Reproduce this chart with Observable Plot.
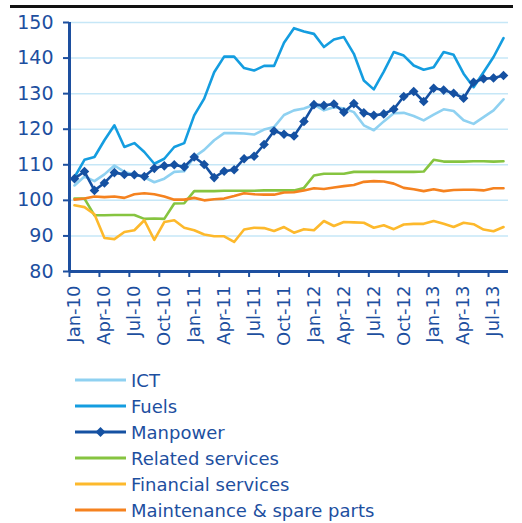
<!DOCTYPE html>
<html><head><meta charset="utf-8">
<script src="https://cdn.jsdelivr.net/npm/d3@7"></script>
<script src="https://cdn.jsdelivr.net/npm/@observablehq/plot@0.6"></script>
<style>
body{margin:0;background:#fff;font-family:"DejaVu Sans",sans-serif;}
#wrap{position:relative;width:522px;height:523px;overflow:hidden;background:#fff;}
#rule{position:absolute;left:10px;top:5px;width:503px;height:3px;background:#111;}
#chart{position:absolute;left:0;top:0;}
#legend{position:absolute;left:75px;top:367px;}
.row{height:26px;display:flex;align-items:center;color:#1d4f9f;font-size:18px;white-space:nowrap;}
.row svg{margin-right:5px;}
</style></head>
<body><div id="wrap"><div id="chart"></div><div id="rule"></div><div id="legend"></div></div>
<script>
const months = ["Jan-10","Feb-10","Mar-10","Apr-10","May-10","Jun-10","Jul-10","Aug-10","Sep-10","Oct-10","Nov-10","Dec-10",
  "Jan-11","Feb-11","Mar-11","Apr-11","May-11","Jun-11","Jul-11","Aug-11","Sep-11","Oct-11","Nov-11","Dec-11",
  "Jan-12","Feb-12","Mar-12","Apr-12","May-12","Jun-12","Jul-12","Aug-12","Sep-12","Oct-12","Nov-12","Dec-12",
  "Jan-13","Feb-13","Mar-13","Apr-13","May-13","Jun-13","Jul-13","Aug-13"];
const ict = [104.2,106.7,105.4,107.3,109.8,108.0,107.3,106.5,105.1,106.1,108.0,108.2,
  112.2,114.2,116.9,118.9,118.9,118.8,118.5,119.9,120.6,124.0,125.3,125.8,
  126.9,125.3,126.2,125.8,124.8,121.1,119.7,122.2,124.5,124.6,123.7,122.5,
  124.1,125.6,125.1,122.5,121.5,123.4,125.3,128.4];
const fuels = [106.5,111.4,112.2,116.9,121.1,115.0,116.1,113.6,110.3,111.7,115.0,116.1,
  123.9,128.6,136.0,140.4,140.4,137.2,136.5,137.8,137.8,144.3,148.4,147.5,
  146.8,143.1,145.2,145.9,141.2,133.7,131.2,136.2,141.7,140.7,137.9,136.7,
  137.4,141.7,140.9,135.6,131.8,136.0,140.3,145.6];
const manpower = [106.1,108.1,102.8,104.9,107.8,107.3,107.2,106.7,109.0,109.7,110.0,109.4,
  112.2,110.1,106.4,108.2,108.6,111.7,112.4,115.7,119.5,118.6,118.1,122.2,
  126.9,126.7,127.1,124.8,127.2,124.6,123.9,124.3,125.6,129.2,130.6,127.8,
  131.5,131.0,130.1,128.7,133.2,134.2,134.4,135.1];
const related = [100.5,100.5,95.8,95.8,95.9,95.9,95.9,94.8,94.9,94.8,99.1,99.2,
  102.6,102.6,102.6,102.7,102.7,102.7,102.7,102.8,102.8,102.8,102.8,103.5,
  107.0,107.5,107.5,107.5,108.0,108.0,108.0,108.0,108.0,108.0,108.0,108.1,
  111.4,110.9,110.9,110.9,111.0,111.0,110.9,111.0];
const financial = [98.6,98.1,96.1,89.4,89.1,91.1,91.6,94.4,88.9,93.9,94.4,92.3,
  91.6,90.4,89.9,89.9,88.3,91.8,92.3,92.2,91.4,92.5,90.9,91.9,
  91.6,94.2,92.8,93.9,93.8,93.7,92.3,93.0,91.9,93.2,93.4,93.4,
  94.2,93.4,92.5,93.7,93.3,91.8,91.3,92.5];
const maintenance = [100.2,100.5,101.1,100.9,101.1,100.7,101.7,102.0,101.7,101.1,100.2,100.2,
  100.7,100.0,100.3,100.5,101.2,102.0,101.7,101.6,101.6,102.2,102.3,102.8,
  103.4,103.2,103.6,104.0,104.3,105.2,105.4,105.3,104.7,103.5,103.1,102.6,
  103.1,102.6,102.9,103.0,103.0,102.8,103.4,103.4];
const seriesNames = ["ICT","Fuels","Manpower","Related services","Financial services","Maintenance & spare parts"];
const seriesColors = ["#8fd1f1","#149de0","#1551a2","#86c440","#fdb92c","#f5821f"];
const seriesValues = [ict, fuels, manpower, related, financial, maintenance];
const yTicks = [80,90,100,110,120,130,140,150];
const labelIdx = [0,3,6,9,12,15,18,21,24,27,30,33,36,39,42];

const axisColor = "#1d4f9f";
const gridColor = "#c6e7f7";
const bounds = labelIdx.map(i => i - 0.5);

const rows = seriesValues.map((vals, s) => vals.map((v, i) => ({series: seriesNames[s], i, v})));
const diamond = {draw(ctx, size) { const r = Math.sqrt(size / Math.PI); ctx.moveTo(0, -r); ctx.lineTo(r, 0); ctx.lineTo(0, r); ctx.lineTo(-r, 0); ctx.closePath(); }};

const chart = Plot.plot({
  width: 522, height: 360,
  marginLeft: 69, marginRight: 14, marginTop: 22, marginBottom: 89,
  x: {domain: [-0.5, 43.5], ticks: bounds, tickSize: 6, tickFormat: () => "", label: null},
  y: {domain: [80, 150], ticks: yTicks, tickSize: 6, tickPadding: 10, label: null},
  style: {color: axisColor, fontSize: "19px", fontFamily: "DejaVu Sans", background: "white", overflow: "visible"},
  marks: [
    Plot.ruleY(yTicks.filter(v => v > 80), {stroke: gridColor, strokeWidth: 1.5}),
    ...rows.map((r, s) => Plot.line(r, {x: "i", y: "v", stroke: seriesColors[s], strokeWidth: 2.6})),
    Plot.dot(rows[2], {x: "i", y: "v", symbol: diamond, r: 4.8, fill: seriesColors[2], stroke: null}),
    Plot.ruleX([-0.5], {y1: 80, y2: 150, stroke: axisColor, strokeWidth: 3}),
    Plot.ruleY([80], {stroke: axisColor, strokeWidth: 3}),
    Plot.text(labelIdx, {x: d => d, y: 80, text: d => months[d], rotate: -90, textAnchor: "end", dy: 14, fontSize: 18, fill: axisColor})
  ]
});
document.getElementById("chart").appendChild(chart);
chart.querySelectorAll('[aria-label^="x-axis"] line, [aria-label^="y-axis"] line, [aria-label="x-axis tick"] path, [aria-label="y-axis tick"] path').forEach(e => e.setAttribute("stroke-width", 2));

const legend = document.getElementById("legend");
seriesNames.forEach((name, s) => {
  const row = document.createElement("div");
  row.className = "row";
  const dia = s === 2 ? `<path d="M25.5,-5 L30.5,0 L25.5,5 L20.5,0 Z" fill="${seriesColors[s]}"/>` : "";
  row.innerHTML = `<svg width="51" height="12" viewBox="0 -6 51 12"><line x1="0" x2="51" y1="0" y2="0" stroke="${seriesColors[s]}" stroke-width="3"/>${dia}</svg><span>${name.replace("&", "&amp;")}</span>`;
  legend.appendChild(row);
});
</script>
</body></html>
